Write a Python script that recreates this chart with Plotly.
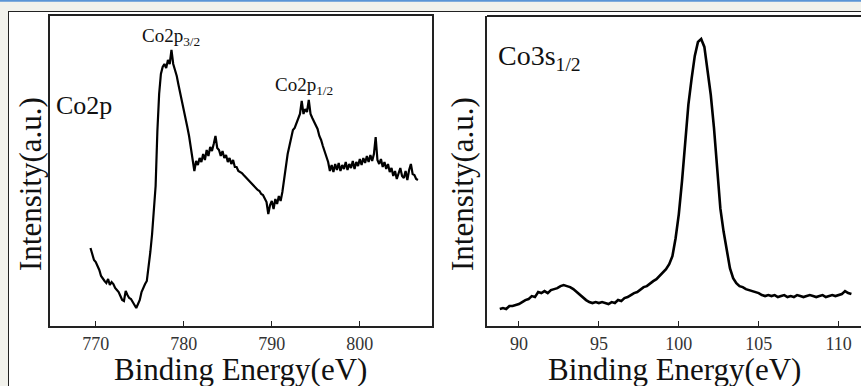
import plotly.graph_objects as go

# ---- Data (intensity in arbitrary units) ----
# Co2p spectrum: binding energy starts at 769.4 eV, step 0.2 eV
co2p_start = 769.4
co2p_step = 0.2
co2p_intensity = [
    78, 72, 66, 64, 60, 56, 50, 47, 45, 43,
    47, 41, 44, 42, 38, 36, 34, 30, 26, 25,
    35, 31, 28, 27, 24, 21, 18, 22, 26, 34,
    39, 42, 45, 58, 74, 92, 112, 140, 195, 232,
    252, 259, 262, 258, 266, 262, 276, 262, 256, 250,
    241, 233, 226, 216, 209, 199, 190, 178, 168, 155,
    165, 161, 168, 164, 172, 166, 176, 170, 179, 175,
    182, 190, 178, 176, 170, 175, 168, 171, 164, 168,
    162, 166, 159, 159, 155, 154, 153, 151, 149, 147,
    146, 144, 142, 140, 138, 136, 135, 132, 131, 128,
    124, 112, 121, 125, 117, 127, 122, 130, 125, 134,
    148, 160, 172, 180, 190, 196, 198, 203, 208, 212,
    225, 212, 217, 214, 226, 212, 208, 204, 200, 197,
    190, 186, 180, 175, 168, 164, 155, 161, 154, 162,
    156, 163, 155, 161, 157, 164, 156, 162, 158, 165,
    157, 164, 160, 167, 161, 168, 163, 170, 164, 171,
    165, 172, 189, 166, 162, 167, 159, 164, 157, 162,
    154, 158, 150, 155, 147, 153, 158, 150, 148, 155,
    146, 156, 162, 152, 151, 147, 146,
]

# Co3s spectrum: binding energy starts at 88.8 eV, step 0.2 eV
co3s_start = 88.8
co3s_step = 0.2
co3s_intensity = [
    17, 18, 17, 20, 20, 21, 22, 24, 26, 27,
    30, 29, 34, 33, 35, 33, 36, 37, 38, 40,
    41, 40, 39, 37, 34, 31, 29, 26, 24, 23,
    24, 23, 24, 23, 22, 24, 23, 26, 25, 28,
    29, 31, 33, 34, 37, 39, 40, 43, 45, 47,
    50, 53, 57, 62, 70, 88, 112, 145, 185, 222,
    248, 271, 285, 288, 280, 258, 232, 199, 160, 118,
    95, 75, 58, 48, 43, 40, 39, 37, 36, 35,
    34, 33, 31, 30, 31, 30, 31, 29, 30, 31,
    29, 30, 29, 31, 30, 29, 30, 31, 30, 29,
    30, 31, 29, 30, 31, 30, 31, 32, 35, 33,
    32,
]

left_ticks = [770, 780, 790, 800]
right_ticks = [90, 95, 100, 105, 110]

FONT = "Liberation Serif"

fig = go.Figure()
fig.add_trace(go.Scatter(
    x0=co2p_start, dx=co2p_step, y=co2p_intensity, mode="lines",
    line=dict(color="black", width=2.2), xaxis="x", yaxis="y", showlegend=False))
fig.add_trace(go.Scatter(
    x0=co3s_start, dx=co3s_step, y=co3s_intensity, mode="lines",
    line=dict(color="black", width=2.6), xaxis="x2", yaxis="y2", showlegend=False))

W, H = 861, 386
ydom = [1 - 326 / H, 1 - 16 / H]
tickfont = dict(family=FONT, size=18, color="#333")
fig.update_layout(
    width=W, height=H, margin=dict(l=0, r=0, t=0, b=0),
    paper_bgcolor="white", plot_bgcolor="white",
    xaxis=dict(domain=[50 / W, 432 / W], range=[764.8, 808.2], tickvals=left_ticks,
               mirror=True, anchor="y", showgrid=False, zeroline=False, showline=True,
               linecolor="#222", linewidth=2, ticks="inside", ticklen=5, tickwidth=1.2,
               tickcolor="#222", tickfont=tickfont, ticklabelstandoff=0),
    yaxis=dict(domain=ydom, range=[0, 310], showticklabels=False, anchor="x",
               showgrid=False, zeroline=False, showline=True, linecolor="#222",
               linewidth=2, mirror=True, ticks=""),
    xaxis2=dict(domain=[487 / W, 1.0], range=[88.0, 111.4], tickvals=right_ticks,
                anchor="y2", showgrid=False, zeroline=False, showline=True,
                linecolor="#222", linewidth=2, ticks="inside", ticklen=5, tickwidth=1.2,
                tickcolor="#222", tickfont=tickfont, ticklabelstandoff=0),
    yaxis2=dict(domain=ydom, range=[0, 311], showticklabels=False, anchor="x2",
                showgrid=False, zeroline=False, showline=True, linecolor="#222",
                linewidth=2, ticks=""),
)

shapes = [
    # light grey window strips and blue top line
    dict(type="rect", xref="paper", yref="paper", x0=0, x1=1, y0=1 - 11 / H, y1=1,
         fillcolor="#f2f2ec", line=dict(width=0), layer="below"),
    dict(type="rect", xref="paper", yref="paper", x0=0, x1=8 / W, y0=0, y1=1,
         fillcolor="#f2f2ec", line=dict(width=0), layer="below"),
    dict(type="line", xref="paper", yref="paper", x0=0, x1=1, y0=1 - 0.8 / H, y1=1 - 0.8 / H,
         line=dict(color="#5b95d6", width=2)),
    # outer thin frame
    dict(type="line", xref="paper", yref="paper", x0=8 / W, x1=1, y0=1 - 11.5 / H, y1=1 - 11.5 / H,
         line=dict(color="#222", width=1)),
    dict(type="line", xref="paper", yref="paper", x0=8.5 / W, x1=8.5 / W, y0=0, y1=1 - 11.5 / H,
         line=dict(color="#222", width=1)),
    # top border of right panel
    dict(type="line", xref="paper", yref="paper", x0=487 / W, x1=1, y0=ydom[1], y1=ydom[1],
         line=dict(color="#222", width=2)),
]
fig.update_layout(shapes=shapes)

ann = []
def add(text, x, y, size, xanchor="left", yanchor="middle", angle=0):
    ann.append(dict(text=text, x=x, y=y, xref="paper", yref="paper", showarrow=False,
                    xanchor=xanchor, yanchor=yanchor, textangle=angle,
                    font=dict(family=FONT, size=size, color="#111")))

add("Binding Energy(eV)", 240 / W, 1 - 369.5 / H, 31, xanchor="center")
add("Binding Energy(eV)", 674 / W, 1 - 369.5 / H, 31, xanchor="center")
add("Intensity(a.u.)", 31 / W, 1 - 184 / H, 31, xanchor="center", angle=-90)
add("Intensity(a.u.)", 463 / W, 1 - 184 / H, 31, xanchor="center", angle=-90)
add("Co2p", 54 / W, 1 - 106 / H, 26)
add("Co2p<sub>3/2</sub>", 140 / W, 1 - 37 / H, 19)
add("Co2p<sub>1/2</sub>", 273 / W, 1 - 86 / H, 19)
add("Co3s<sub>1/2</sub>", 496 / W, 1 - 58 / H, 28)
fig.update_layout(annotations=ann)

fig.write_html("out.html", config={"displayModeBar": False},
               post_script="document.body.style.margin='0';document.body.style.overflow='hidden';")
